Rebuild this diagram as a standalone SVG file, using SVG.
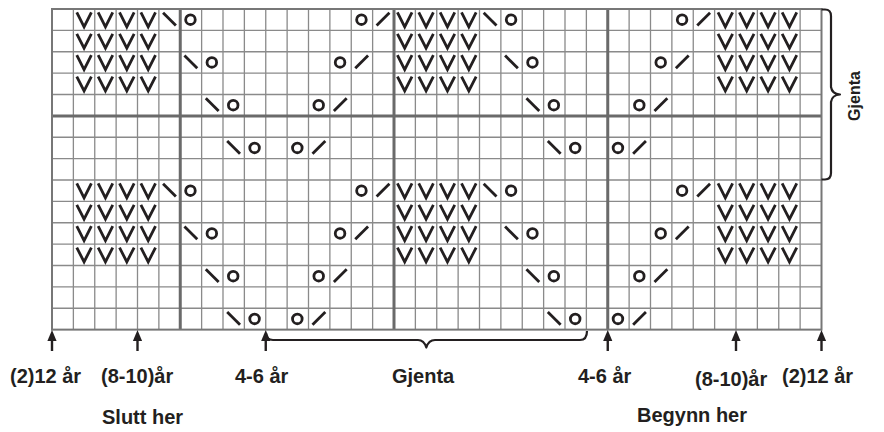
<svg xmlns="http://www.w3.org/2000/svg" xmlns:xlink="http://www.w3.org/1999/xlink" width="884" height="432" viewBox="0 0 884 432">
<style>
.thin{stroke:#8a8a8a;stroke-width:1.3;fill:none}
.thick{stroke:#6a6a6a;stroke-width:3;fill:none}
.border{stroke:#777777;stroke-width:2;fill:none}
.sym{stroke:#231f20;stroke-width:2.8;fill:none;stroke-linecap:butt}
.brace{stroke:#231f20;stroke-width:2.2;fill:none;stroke-linejoin:round}
.lbl{font-family:"Liberation Sans",Arial,sans-serif;font-size:20px;font-weight:bold;fill:#231f20}
</style>
<defs>
<path id="v" class="sym" d="M3.4 3.4 L10.7 17.8 L18 3.4" stroke-linejoin="miter" stroke-miterlimit="10"/>
<line id="b" class="sym" x1="4.2" y1="3.8" x2="17" y2="16.6"/>
<line id="f" class="sym" x1="4" y1="16.6" x2="16.8" y2="3.8"/>
<circle id="o" class="sym" cx="10.2" cy="10.7" r="4.8"/>
<g id="arrow"><line x1="0" y1="338" x2="0" y2="351" stroke="#231f20" stroke-width="2.4"/><path d="M0 330 L4.6 341 L-4.6 341 Z" fill="#231f20"/></g>
</defs>
<rect width="884" height="432" fill="#ffffff"/>
<g id="grid">
<path class="thin" d="M73.375 9V329.625M94.75 9V329.625M116.125 9V329.625M137.5 9V329.625M158.875 9V329.625M201.625 9V329.625M223 9V329.625M244.375 9V329.625M265.75 9V329.625M287.125 9V329.625M308.5 9V329.625M329.875 9V329.625M351.25 9V329.625M372.625 9V329.625M415.375 9V329.625M436.75 9V329.625M458.125 9V329.625M479.5 9V329.625M500.875 9V329.625M522.25 9V329.625M543.625 9V329.625M565 9V329.625M586.375 9V329.625M629.125 9V329.625M650.5 9V329.625M671.875 9V329.625M693.25 9V329.625M714.625 9V329.625M736 9V329.625M757.375 9V329.625M778.75 9V329.625M800.125 9V329.625"/>
<path class="thin" d="M52 30.375H821.5M52 51.75H821.5M52 73.125H821.5M52 94.5H821.5M52 137.25H821.5M52 158.625H821.5M52 180H821.5M52 201.375H821.5M52 222.75H821.5M52 244.125H821.5M52 265.5H821.5M52 286.875H821.5M52 308.25H821.5"/>
<path class="thick" d="M180.25 9V329.625M394 9V329.625M607.75 9V329.625M52 115.875H821.5"/>
<rect class="border" x="52" y="9" width="769.5" height="320.625"/>
</g>
<g id="symbols">
<g id="row0" transform="translate(0 9)">
<use href="#v" x="73.375"/><use href="#v" x="94.75"/><use href="#v" x="116.125"/><use href="#v" x="137.5"/><use href="#b" x="158.875"/><use href="#o" x="180.25"/>
<use href="#o" x="351.25"/><use href="#f" x="372.625"/>
<use href="#v" x="394"/><use href="#v" x="415.375"/><use href="#v" x="436.75"/><use href="#v" x="458.125"/><use href="#b" x="479.5"/><use href="#o" x="500.875"/>
<use href="#o" x="671.875"/><use href="#f" x="693.25"/>
<use href="#v" x="714.625"/><use href="#v" x="736"/><use href="#v" x="757.375"/><use href="#v" x="778.75"/>
</g>
<g id="row1" transform="translate(0 30.375)">
<use href="#v" x="73.375"/><use href="#v" x="94.75"/><use href="#v" x="116.125"/><use href="#v" x="137.5"/>
<use href="#v" x="394"/><use href="#v" x="415.375"/><use href="#v" x="436.75"/><use href="#v" x="458.125"/>
<use href="#v" x="714.625"/><use href="#v" x="736"/><use href="#v" x="757.375"/><use href="#v" x="778.75"/>
</g>
<g id="row2" transform="translate(0 51.75)">
<use href="#v" x="73.375"/><use href="#v" x="94.75"/><use href="#v" x="116.125"/><use href="#v" x="137.5"/><use href="#b" x="180.25"/><use href="#o" x="201.625"/>
<use href="#o" x="329.875"/><use href="#f" x="351.25"/>
<use href="#v" x="394"/><use href="#v" x="415.375"/><use href="#v" x="436.75"/><use href="#v" x="458.125"/><use href="#b" x="500.875"/><use href="#o" x="522.25"/>
<use href="#o" x="650.5"/><use href="#f" x="671.875"/>
<use href="#v" x="714.625"/><use href="#v" x="736"/><use href="#v" x="757.375"/><use href="#v" x="778.75"/>
</g>
<g id="row3" transform="translate(0 73.125)">
<use href="#v" x="73.375"/><use href="#v" x="94.75"/><use href="#v" x="116.125"/><use href="#v" x="137.5"/>
<use href="#v" x="394"/><use href="#v" x="415.375"/><use href="#v" x="436.75"/><use href="#v" x="458.125"/>
<use href="#v" x="714.625"/><use href="#v" x="736"/><use href="#v" x="757.375"/><use href="#v" x="778.75"/>
</g>
<g id="row4" transform="translate(0 94.5)">
<use href="#b" x="201.625"/><use href="#o" x="223"/><use href="#o" x="308.5"/><use href="#f" x="329.875"/>
<use href="#b" x="522.25"/><use href="#o" x="543.625"/><use href="#o" x="629.125"/><use href="#f" x="650.5"/>
</g>
<g id="row6" transform="translate(0 137.25)">
<use href="#b" x="223"/><use href="#o" x="244.375"/><use href="#o" x="287.125"/><use href="#f" x="308.5"/>
<use href="#b" x="543.625"/><use href="#o" x="565"/><use href="#o" x="607.75"/><use href="#f" x="629.125"/>
</g>
<g id="row8" transform="translate(0 180)">
<use href="#v" x="73.375"/><use href="#v" x="94.75"/><use href="#v" x="116.125"/><use href="#v" x="137.5"/><use href="#b" x="158.875"/><use href="#o" x="180.25"/>
<use href="#o" x="351.25"/><use href="#f" x="372.625"/>
<use href="#v" x="394"/><use href="#v" x="415.375"/><use href="#v" x="436.75"/><use href="#v" x="458.125"/><use href="#b" x="479.5"/><use href="#o" x="500.875"/>
<use href="#o" x="671.875"/><use href="#f" x="693.25"/>
<use href="#v" x="714.625"/><use href="#v" x="736"/><use href="#v" x="757.375"/><use href="#v" x="778.75"/>
</g>
<g id="row9" transform="translate(0 201.375)">
<use href="#v" x="73.375"/><use href="#v" x="94.75"/><use href="#v" x="116.125"/><use href="#v" x="137.5"/>
<use href="#v" x="394"/><use href="#v" x="415.375"/><use href="#v" x="436.75"/><use href="#v" x="458.125"/>
<use href="#v" x="714.625"/><use href="#v" x="736"/><use href="#v" x="757.375"/><use href="#v" x="778.75"/>
</g>
<g id="row10" transform="translate(0 222.75)">
<use href="#v" x="73.375"/><use href="#v" x="94.75"/><use href="#v" x="116.125"/><use href="#v" x="137.5"/><use href="#b" x="180.25"/><use href="#o" x="201.625"/>
<use href="#o" x="329.875"/><use href="#f" x="351.25"/>
<use href="#v" x="394"/><use href="#v" x="415.375"/><use href="#v" x="436.75"/><use href="#v" x="458.125"/><use href="#b" x="500.875"/><use href="#o" x="522.25"/>
<use href="#o" x="650.5"/><use href="#f" x="671.875"/>
<use href="#v" x="714.625"/><use href="#v" x="736"/><use href="#v" x="757.375"/><use href="#v" x="778.75"/>
</g>
<g id="row11" transform="translate(0 244.125)">
<use href="#v" x="73.375"/><use href="#v" x="94.75"/><use href="#v" x="116.125"/><use href="#v" x="137.5"/>
<use href="#v" x="394"/><use href="#v" x="415.375"/><use href="#v" x="436.75"/><use href="#v" x="458.125"/>
<use href="#v" x="714.625"/><use href="#v" x="736"/><use href="#v" x="757.375"/><use href="#v" x="778.75"/>
</g>
<g id="row12" transform="translate(0 265.5)">
<use href="#b" x="201.625"/><use href="#o" x="223"/><use href="#o" x="308.5"/><use href="#f" x="329.875"/>
<use href="#b" x="522.25"/><use href="#o" x="543.625"/><use href="#o" x="629.125"/><use href="#f" x="650.5"/>
</g>
<g id="row14" transform="translate(0 308.25)">
<use href="#b" x="223"/><use href="#o" x="244.375"/><use href="#o" x="287.125"/><use href="#f" x="308.5"/>
<use href="#b" x="543.625"/><use href="#o" x="565"/><use href="#o" x="607.75"/><use href="#f" x="629.125"/>
</g>
</g>
<g id="connectors">
<use href="#arrow" x="52"/>
<use href="#arrow" x="137.5"/>
<use href="#arrow" x="265.75"/>
<use href="#arrow" x="607.75"/>
<use href="#arrow" x="736"/>
<use href="#arrow" x="821.5"/>
<path id="brace-bottom" class="brace" d="M266 333 Q266 340 273 340 L418 340 Q424 340 426.3 347.5 Q428.6 340 435 340 L580 340 Q587 340 587 331"/>
<path id="brace-right" class="brace" d="M821.5 9.5 L825 9.5 Q831 9.5 831 16 L831 87 Q832 94 840 94.5 Q832 95 831 102 L831 173 Q831 179.5 825 179.5 L821.5 179.5"/>
</g>
<g id="labels">
<text class="lbl" x="10" y="383">(2)12 år</text>
<text class="lbl" x="101" y="383">(8-10)år</text>
<text class="lbl" x="235" y="383">4-6 år</text>
<text class="lbl" x="392" y="383">Gjenta</text>
<text class="lbl" x="578" y="383">4-6 år</text>
<text class="lbl" x="695" y="386">(8-10)år</text>
<text class="lbl" x="782" y="383">(2)12 år</text>
<text class="lbl" x="102" y="424">Slutt her</text>
<text class="lbl" x="637" y="422">Begynn her</text>
<text class="lbl" style="font-size:16px" text-anchor="middle" transform="translate(860 96) rotate(-90)">Gjenta</text>
</g>
</svg>
